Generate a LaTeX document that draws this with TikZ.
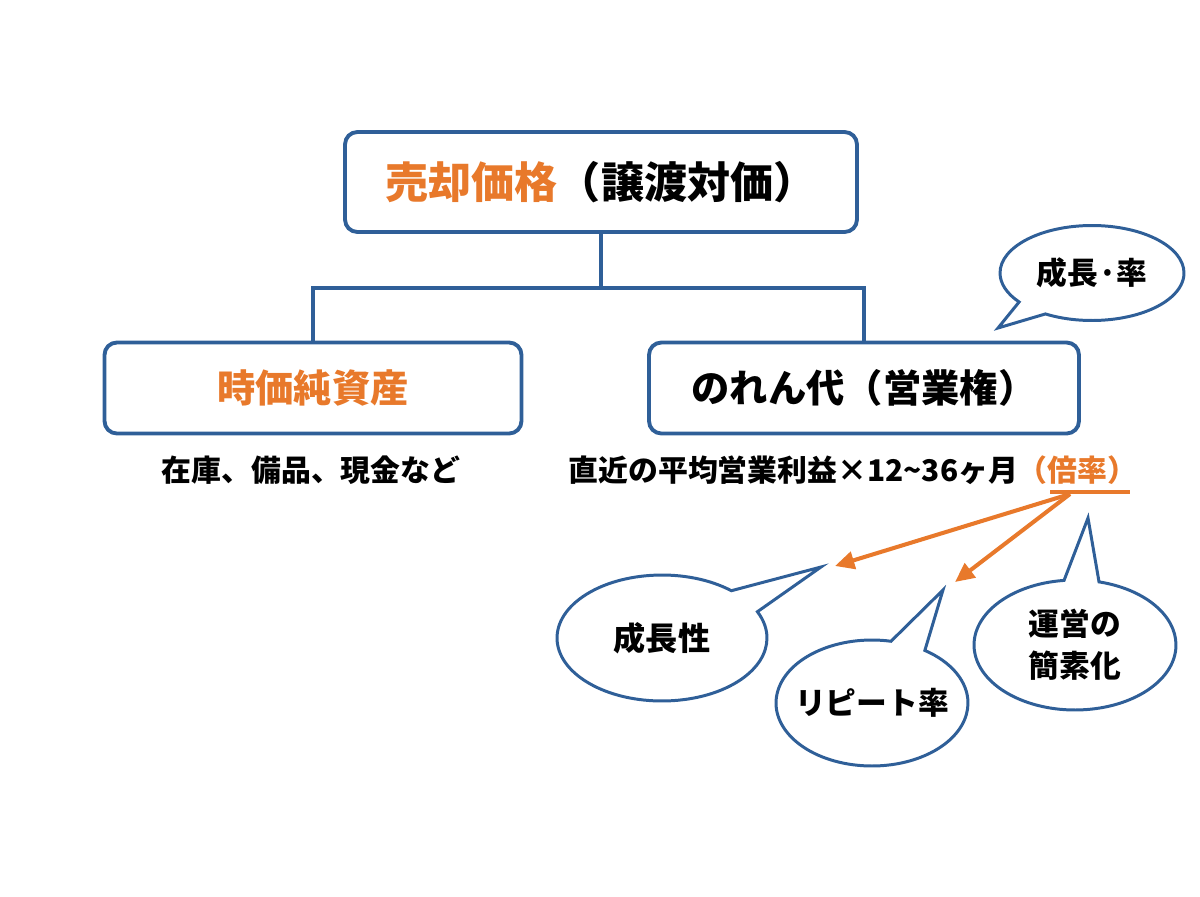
\documentclass[tikz,border=0pt]{standalone}
\usepackage{fontspec}
\setmainfont{Noto Sans CJK JP}
\usetikzlibrary{shapes.callouts,arrows.meta}
\definecolor{boxblue}{HTML}{2F5F98}
\definecolor{accent}{HTML}{E8792B}

\begin{document}
\begin{tikzpicture}[x=0.02cm, y=-0.02cm,
    block/.style={draw=boxblue, line width=2.2pt, rounded corners=7pt,
        fill=white, minimum width=#1, minimum height=1.82cm, inner sep=0pt,
        font=\fontsize{21.8}{26}\selectfont\bfseries},
    note/.style={font=\fontsize{17}{20}\selectfont\bfseries, inner sep=0pt},
    bubble/.style={ellipse callout, draw=boxblue, line width=1.7pt,
        fill=white, inner sep=0pt, align=center, callout pointer arc=22,
        font=\fontsize{17.5}{24}\selectfont\bfseries},
    conn/.style={draw=boxblue, line width=2.2pt},
    pick/.style={draw=accent, line width=2.3pt,
        -{Triangle[length=11pt,width=10pt]}},
]
\useasboundingbox (0,0) rectangle (1200,896);

% === Tree ===
\node[block=10.24cm, minimum height=2cm, font=\fontsize{24.5}{29}\selectfont\bfseries]
    (price) at (601,182) {{\color{accent}売却価格}（譲渡対価）};
\node[block=8.34cm] (netasset) at (313,388) {\color{accent}時価純資産};
\node[block=8.6cm] (goodwill) at (864,388) {のれん代（営業権）};

\coordinate (split) at (601,288);
\draw[conn] (price.south) -- (split);
\draw[conn] (netasset.north) |- (split) -| (goodwill.north);

% === Notes under the boxes ===
\node[note] (assetnote) at (311,470) {在庫、備品、現金など};
\node[note] (profitnote) at (853,470)
    {直近の平均営業利益×12\textasciitilde36ヶ月{\color{accent}（倍率）}};

% Underline + arrows from the multiple
\coordinate (ulA) at (1050,492);
\coordinate (ulB) at (1130,492);
\draw[draw=accent, line width=2.3pt] (ulA) -- (ulB);
\coordinate (fork) at (1070,494);
\coordinate (toGrowth) at (835,566);
\coordinate (toRepeat) at (955,582);
\draw[pick] (fork) -- (toGrowth);
\draw[pick] (fork) -- (toRepeat);

% === Callouts ===
\node[bubble, minimum width=3.68cm, minimum height=1.9cm,
    callout absolute pointer={(998,328)}] (rate) at (1092,273) {成長·率};
\node[bubble, minimum width=4.2cm, minimum height=2.52cm,
    font=\fontsize{18.3}{24}\selectfont\bfseries,
    callout pointer arc=24, callout absolute pointer={(821,567)}]
    (growth) at (662,638) {成長性};
\node[bubble, minimum width=3.84cm, minimum height=2.52cm, inner xsep=-14pt,
    callout absolute pointer={(943,590)}] (repeat) at (872,703) {リピート率};
\node[bubble, minimum width=4.04cm, minimum height=2.6cm,
    callout pointer arc=20, callout absolute pointer={(1088,518)}]
    (simple) at (1075,645) {運営の\\簡素化};

\end{tikzpicture}
\end{document}
